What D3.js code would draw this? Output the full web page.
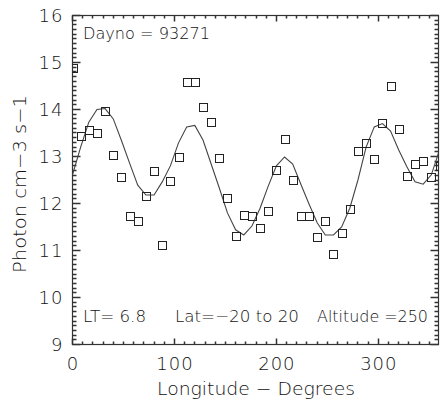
<!DOCTYPE html>
<html>
<head>
<meta charset="utf-8">
<script src="https://cdn.jsdelivr.net/npm/d3@7"></script>
<style>
  body { margin: 0; background: #fff; }
  svg { display: block; }
  text { font-family: "DejaVu Sans", sans-serif; font-weight: 200; fill: #111; }
</style>
</head>
<body>
<svg width="440" height="399"></svg>
<script>
// observed photon densities, one every 8 degrees of longitude
const longitudes = [0, 8, 16, 24, 32, 40, 48, 56, 64, 72, 80, 88, 96, 104, 112, 120,
  128, 136, 144, 152, 160, 168, 176, 184, 192, 200, 208, 216, 224, 232, 240, 248,
  256, 264, 272, 280, 288, 296, 304, 312, 320, 328, 336, 344, 352, 360];
const photon = [14.88, 13.44, 13.56, 13.51, 13.96, 13.03, 12.56, 11.73, 11.62, 12.16,
  12.70, 11.11, 12.48, 12.99, 14.59, 14.59, 14.05, 13.73, 12.97, 12.11, 11.31, 11.75,
  11.73, 11.47, 11.83, 12.72, 13.38, 12.49, 11.73, 11.73, 11.29, 11.63, 10.92, 11.37,
  11.88, 13.12, 13.28, 12.95, 13.72, 14.50, 13.59, 12.59, 12.84, 12.91, 12.56, 12.80];
// fitted curve on the same longitudes
const fitted = [12.61, 13.20, 13.73, 14.00, 14.02, 13.80, 13.34, 12.86, 12.39, 12.18,
  12.18, 12.46, 12.80, 13.29, 13.63, 13.66, 13.35, 12.84, 12.33, 11.80, 11.44, 11.33,
  11.52, 11.90, 12.37, 12.80, 12.99, 12.84, 12.41, 11.99, 11.59, 11.33, 11.33, 11.50,
  11.90, 12.50, 13.20, 13.63, 13.70, 13.54, 13.14, 12.78, 12.46, 12.41, 12.61, 13.14];

const xTicks = [0, 100, 200, 300];
const yTicks = [9, 10, 11, 12, 13, 14, 15, 16];
const xMinor = [10, 20, 30, 40, 50, 60, 70, 80, 90, 110, 120, 130, 140, 150, 160, 170, 180, 190,
  210, 220, 230, 240, 250, 260, 270, 280, 290, 310, 320, 330, 340, 350];
const yMinor = d3.range(90, 161).filter(d => d % 10 != 0).map(d => d / 10);

const labels = {
  day: "Dayno = 93271",
  lt: "LT= 6.8",
  lat: "Lat=\u221220 to 20",
  alt: "Altitude =250",
  xTitle: "Longitude \u2212 Degrees",
  yTitle: "Photon cm\u22123 s\u22121"
};

const svg = d3.select("svg");
const pLeft = 72.5, pRight = 438.5, pTop = 15.5, pBottom = 344.5;

const x = d3.scaleLinear().domain([0, 360]).range([pLeft, pRight + 1]);
const y = d3.scaleLinear().domain([9, 16]).range([pBottom, pTop]);

svg.append("clipPath").attr("id", "plotclip")
  .append("rect")
    .attr("x", pLeft).attr("y", pTop)
    .attr("width", pRight - pLeft).attr("height", pBottom - pTop);

const axisColor = "#333";

// frame
svg.append("rect")
  .attr("x", pLeft).attr("y", pTop)
  .attr("width", pRight - pLeft).attr("height", pBottom - pTop)
  .attr("fill", "none").attr("stroke", axisColor).attr("stroke-width", 1.2);

// tick marks, pointing inward on all four sides
const tickLayer = svg.append("g");
function tickPath(vals, len, horizontal) {
  let d = "";
  vals.forEach(v => {
    if (horizontal) {
      const px = Math.round(x(v) - 0.5) + 0.5;
      d += `M${px},${pBottom}V${pBottom - len}M${px},${pTop}V${pTop + len}`;
    } else {
      const py = Math.round(y(v) - 0.5) + 0.5;
      d += `M${pLeft},${py}H${pLeft + len}M${pRight},${py}H${pRight - len}`;
    }
  });
  tickLayer.append("path").attr("d", d)
    .attr("fill", "none").attr("stroke", axisColor).attr("stroke-width", 1.5);
}
tickPath(xTicks, 6, true);
tickPath(xMinor, 3, true);
tickPath(yTicks, 8, false);
tickPath(yMinor, 4, false);

// tick labels through d3 axes
function styleAxis(g) {
  g.select(".domain").remove();
  g.selectAll("line").remove();
  g.selectAll("text").attr("font-size", 18).attr("fill", "#111")
    .attr("font-family", null).attr("letter-spacing", 1);
}
svg.append("g").attr("transform", `translate(0,${pBottom})`)
  .call(d3.axisBottom(x).tickValues(xTicks).tickSize(0).tickPadding(13))
  .call(styleAxis);
svg.append("g").attr("transform", `translate(${pLeft},0)`)
  .call(d3.axisLeft(y).tickValues(yTicks).tickSize(0).tickPadding(9).tickFormat(d3.format("d")))
  .call(styleAxis);

// fitted curve
const line = d3.line().x((d, i) => x(longitudes[i])).y(d => y(d));
svg.append("path")
  .attr("clip-path", "url(#plotclip)")
  .attr("d", line(fitted))
  .attr("fill", "none")
  .attr("stroke", "#444")
  .attr("stroke-width", 1.1);

// observations as open squares
const sq = 8;
svg.append("g").attr("clip-path", "url(#plotclip)")
  .selectAll("rect").data(photon).join("rect")
    .attr("x", (d, i) => Math.round(x(longitudes[i]) - sq / 2) + 0.5)
    .attr("y", d => Math.round(y(d) - sq / 2) + 0.5)
    .attr("width", sq).attr("height", sq)
    .attr("fill", "none")
    .attr("stroke", "#222")
    .attr("stroke-width", 1);

// annotations, stretched to the widths of the original lettering
function note(txt, xPos, yPos, width, size) {
  return svg.append("text")
    .attr("x", xPos).attr("y", yPos)
    .attr("font-size", size)
    .attr("textLength", width)
    .attr("lengthAdjust", "spacingAndGlyphs")
    .text(txt);
}
note(labels.day, 83, 39, 127, 16);
note(labels.lt, 83, 322, 63, 16);
note(labels.lat, 175, 322, 124, 16);
note(labels.alt, 317, 322, 111, 16);
note(labels.xTitle, 157, 395, 198, 18);

svg.append("text")
  .attr("transform", "translate(26,273) rotate(-90)")
  .attr("font-size", 18)
  .attr("textLength", 178)
  .attr("lengthAdjust", "spacingAndGlyphs")
  .text(labels.yTitle);
</script>
</body>
</html>
